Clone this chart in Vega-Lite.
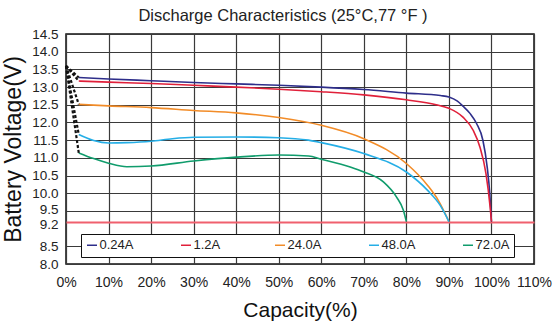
{
  "$schema": "https://vega.github.io/schema/vega-lite/v6.json",
  "width": 468,
  "height": 230,
  "autosize": {"type": "none"},
  "padding": {"left": 66, "top": 34, "right": 21, "bottom": 61},
  "background": "white",
  "title": {"text": "Discharge Characteristics (25°C,77 °F )", "fontSize": 16.5, "font": "Liberation Sans", "fontWeight": "normal", "color": "#222", "anchor": "middle", "offset": 3, "dx": -17},
  "config": {
    "view": {"stroke": "#111", "strokeWidth": 1.5},
    "font": "Liberation Sans",
    "axis": {"labelFont": "Liberation Sans", "titleFont": "Liberation Sans", "labelColor": "#222", "titleColor": "#111", "titleFontWeight": "normal", "ticks": false, "domain": false, "grid": true, "labelOverlap": false, "labelFlush": false, "labelBound": false}
  },
  "datasets": {
    "curves": [
      {"s": "0.24A", "x": 3, "v": 13.27}, {"s": "0.24A", "x": 10, "v": 13.23}, {"s": "0.24A", "x": 20, "v": 13.18}, {"s": "0.24A", "x": 30, "v": 13.13}, {"s": "0.24A", "x": 40, "v": 13.09}, {"s": "0.24A", "x": 50, "v": 13.05}, {"s": "0.24A", "x": 60, "v": 13.0}, {"s": "0.24A", "x": 70, "v": 12.93}, {"s": "0.24A", "x": 80, "v": 12.83}, {"s": "0.24A", "x": 88, "v": 12.76}, {"s": "0.24A", "x": 90, "v": 12.72}, {"s": "0.24A", "x": 92, "v": 12.6}, {"s": "0.24A", "x": 93.3, "v": 12.46}, {"s": "0.24A", "x": 95, "v": 12.25}, {"s": "0.24A", "x": 96.5, "v": 11.97}, {"s": "0.24A", "x": 98, "v": 11.49}, {"s": "0.24A", "x": 99, "v": 10.74}, {"s": "0.24A", "x": 99.6, "v": 10.0}, {"s": "0.24A", "x": 100, "v": 9.2},
      {"s": "1.2A", "x": 3, "v": 13.17}, {"s": "1.2A", "x": 10, "v": 13.14}, {"s": "1.2A", "x": 20, "v": 13.1}, {"s": "1.2A", "x": 30, "v": 13.05}, {"s": "1.2A", "x": 40, "v": 13.0}, {"s": "1.2A", "x": 50, "v": 12.94}, {"s": "1.2A", "x": 60, "v": 12.87}, {"s": "1.2A", "x": 70, "v": 12.78}, {"s": "1.2A", "x": 80, "v": 12.64}, {"s": "1.2A", "x": 87, "v": 12.5}, {"s": "1.2A", "x": 90, "v": 12.4}, {"s": "1.2A", "x": 93.3, "v": 12.15}, {"s": "1.2A", "x": 95.7, "v": 11.78}, {"s": "1.2A", "x": 97.3, "v": 11.3}, {"s": "1.2A", "x": 98.7, "v": 10.56}, {"s": "1.2A", "x": 99.7, "v": 9.6}, {"s": "1.2A", "x": 100, "v": 9.2},
      {"s": "24.0A", "x": 3, "v": 12.51}, {"s": "24.0A", "x": 10, "v": 12.47}, {"s": "24.0A", "x": 20, "v": 12.42}, {"s": "24.0A", "x": 30, "v": 12.34}, {"s": "24.0A", "x": 40, "v": 12.27}, {"s": "24.0A", "x": 50, "v": 12.14}, {"s": "24.0A", "x": 60, "v": 11.92}, {"s": "24.0A", "x": 70, "v": 11.54}, {"s": "24.0A", "x": 80, "v": 10.84}, {"s": "24.0A", "x": 85, "v": 10.22}, {"s": "24.0A", "x": 87.5, "v": 9.8}, {"s": "24.0A", "x": 90, "v": 9.2},
      {"s": "48.0A", "x": 3, "v": 11.66}, {"s": "48.0A", "x": 6.5, "v": 11.49}, {"s": "48.0A", "x": 10, "v": 11.42}, {"s": "48.0A", "x": 14.3, "v": 11.43}, {"s": "48.0A", "x": 20, "v": 11.47}, {"s": "48.0A", "x": 25, "v": 11.54}, {"s": "48.0A", "x": 30, "v": 11.58}, {"s": "48.0A", "x": 40, "v": 11.59}, {"s": "48.0A", "x": 50, "v": 11.57}, {"s": "48.0A", "x": 57, "v": 11.5}, {"s": "48.0A", "x": 60, "v": 11.43}, {"s": "48.0A", "x": 70, "v": 11.12}, {"s": "48.0A", "x": 80, "v": 10.6}, {"s": "48.0A", "x": 85, "v": 10.08}, {"s": "48.0A", "x": 88, "v": 9.65}, {"s": "48.0A", "x": 90, "v": 9.2},
      {"s": "72.0A", "x": 3, "v": 11.14}, {"s": "72.0A", "x": 6.5, "v": 10.98}, {"s": "72.0A", "x": 10, "v": 10.85}, {"s": "72.0A", "x": 14.3, "v": 10.75}, {"s": "72.0A", "x": 20, "v": 10.77}, {"s": "72.0A", "x": 30, "v": 10.91}, {"s": "72.0A", "x": 40, "v": 11.02}, {"s": "72.0A", "x": 50, "v": 11.08}, {"s": "72.0A", "x": 57, "v": 11.05}, {"s": "72.0A", "x": 60, "v": 10.96}, {"s": "72.0A", "x": 66.8, "v": 10.74}, {"s": "72.0A", "x": 70, "v": 10.6}, {"s": "72.0A", "x": 74.6, "v": 10.32}, {"s": "72.0A", "x": 77.7, "v": 9.89}, {"s": "72.0A", "x": 79.3, "v": 9.52}, {"s": "72.0A", "x": 80, "v": 9.2}
    ],
    "dots": [
      {"s": "0.24A", "x": 0, "v": 13.6}, {"s": "0.24A", "x": 3, "v": 13.27},
      {"s": "1.2A", "x": 0, "v": 13.6}, {"s": "1.2A", "x": 3, "v": 13.17},
      {"s": "24.0A", "x": 0, "v": 13.6}, {"s": "24.0A", "x": 3, "v": 12.51},
      {"s": "48.0A", "x": 0, "v": 13.6}, {"s": "48.0A", "x": 3, "v": 11.66},
      {"s": "72.0A", "x": 0, "v": 13.6}, {"s": "72.0A", "x": 3, "v": 11.14}
    ]
  },
  "encoding": {
    "x": {"field": "x", "type": "quantitative", "scale": {"domain": [0, 110], "nice": false, "zero": false},
      "axis": {"values": [0, 10, 20, 30, 40, 50, 60, 70, 80, 90, 100, 110], "labelExpr": "datum.value + '%'", "labelFontSize": 14, "labelPadding": 11, "gridColor": "#3a3a3a", "gridWidth": 1.2, "title": "Capacity(%)", "titleFontSize": 21, "titlePadding": 10}},
    "y": {"field": "v", "type": "quantitative", "scale": {"domain": [8, 14.5], "nice": false, "zero": false},
      "axis": {"values": [8, 8.5, 9.2, 9.5, 10, 10.5, 11, 11.5, 12, 12.5, 13, 13.5, 14, 14.5], "format": ".1f", "labelFontSize": 13.5, "labelPadding": 8,
        "labelOffset": {"condition": [{"test": "datum.value == 9.2", "value": 3}, {"test": "datum.value == 9.5", "value": -1}], "value": 0},
        "gridColor": {"condition": {"test": "datum.value == 9.2", "value": "#f0606e"}, "value": "#3a3a3a"},
        "gridWidth": {"condition": {"test": "datum.value == 9.2", "value": 2}, "value": 1.2},
        "title": "Battery Voltage(V)", "titleFontSize": 23, "titlePadding": 6}}
  },
  "layer": [
    {
      "data": {"name": "curves"},
      "mark": {"type": "line", "interpolate": "monotone", "strokeWidth": 1.6},
      "encoding": {
        "color": {"field": "s", "type": "nominal",
          "scale": {"domain": ["0.24A", "1.2A", "24.0A", "48.0A", "72.0A"], "range": ["#2e2e8a", "#e0203a", "#f28c28", "#25aee6", "#109c6c"]},
          "legend": {"orient": "none", "legendX": 15, "legendY": 200, "direction": "horizontal", "columns": 5, "gridAlign": "all", "columnPadding": 44, "title": null,
            "symbolType": "stroke", "symbolSize": 100, "symbolStrokeWidth": 1.5, "labelFontSize": 13, "labelColor": "#222", "labelOffset": 1, "labelFont": "Liberation Sans",
            "fillColor": "white", "strokeColor": "#111", "padding": 4.5}}
      }
    },
    {
      "data": {"name": "dots"},
      "mark": {"type": "line", "color": "#111", "strokeWidth": 2.2, "strokeDash": [3, 2]},
      "encoding": {
        "detail": {"field": "s", "type": "nominal"}
      }
    }
  ]
}
